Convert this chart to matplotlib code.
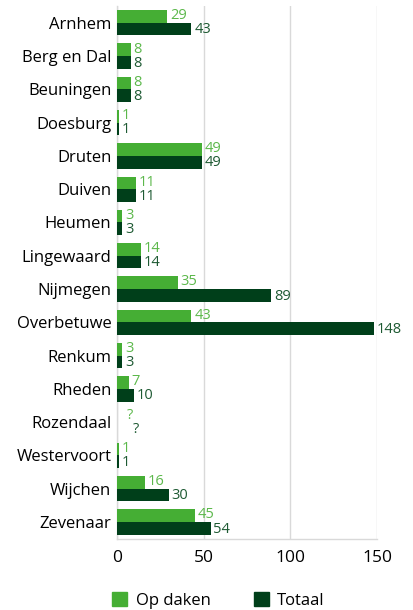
import numpy as np
import matplotlib
matplotlib.use('Agg')
import matplotlib.pyplot as plt
from matplotlib.patches import Patch

plt.rcParams['font.family'] = ['Open Sans', 'DejaVu Sans']

# Data
gemeenten = ['Arnhem', 'Berg en Dal', 'Beuningen', 'Doesburg', 'Druten', 'Duiven',
             'Heumen', 'Lingewaard', 'Nijmegen', 'Overbetuwe', 'Renkum', 'Rheden',
             'Rozendaal', 'Westervoort', 'Wijchen', 'Zevenaar']
op_daken = [29, 8, 8, 1, 49, 11, 3, 14, 35, 43, 3, 7, 0, 1, 16, 45]
totaal = [43, 8, 8, 1, 49, 11, 3, 14, 89, 148, 3, 10, 0, 1, 30, 54]
labels_daken = ['29', '8', '8', '1', '49', '11', '3', '14', '35', '43', '3', '7', '?', '1', '16', '45']
labels_totaal = ['43', '8', '8', '1', '49', '11', '3', '14', '89', '148', '3', '10', '?', '1', '30', '54']

light = '#45ae34'
dark = '#003f1a'
light_txt = '#5cb84b'
dark_txt = '#1e5a33'

fig = plt.figure(figsize=(4.13, 6.10), dpi=100)
ax = fig.add_axes([0.283, 0.117, 0.63, 0.873])

y = np.arange(len(gemeenten))
h = 0.38
ax.barh(y - h / 2, op_daken, height=h, color=light, zorder=3)
ax.barh(y + h / 2, totaal, height=h, color=dark, zorder=3)

for i in range(len(gemeenten)):
    unknown = labels_daken[i] == '?'
    ax.annotate(labels_daken[i], (op_daken[i], y[i] - h / 2), xytext=(7 if unknown else 2, 0.5),
                textcoords='offset points', va='center', ha='left',
                color=light_txt, fontsize=10.5)
    ax.annotate(labels_totaal[i], (totaal[i], y[i] + h / 2), xytext=(11.5 if unknown else 2, -0.5),
                textcoords='offset points', va='center', ha='left',
                color=dark_txt, fontsize=10.5)

ax.set_xlim(0, 150)
ax.set_ylim(len(gemeenten) - 0.5, -0.5)
ax.set_xticks([0, 50, 100, 150])
ax.set_yticks(y)
ax.set_yticklabels(gemeenten, fontsize=12)
ax.tick_params(axis='x', labelsize=12.5, length=0, pad=8)
ax.tick_params(axis='y', length=0, pad=4)
ax.grid(axis='x', color='#d9d9d9', linewidth=1, zorder=0)
for s in ['top', 'right']:
    ax.spines[s].set_visible(False)
for s in ['left', 'bottom']:
    ax.spines[s].set_color('#d9d9d9')
    ax.spines[s].set_linewidth(1)

handles = [Patch(color=light, label='Op daken'), Patch(color=dark, label='Totaal')]
fig.legend(handles=handles, loc='center', bbox_to_anchor=(0.529, 0.016), ncol=2,
           frameon=False, fontsize=12, handlelength=0.9, handleheight=0.9,
           columnspacing=2.6, handletextpad=0.5)

plt.savefig('out.png', dpi=100)
plt.close()
